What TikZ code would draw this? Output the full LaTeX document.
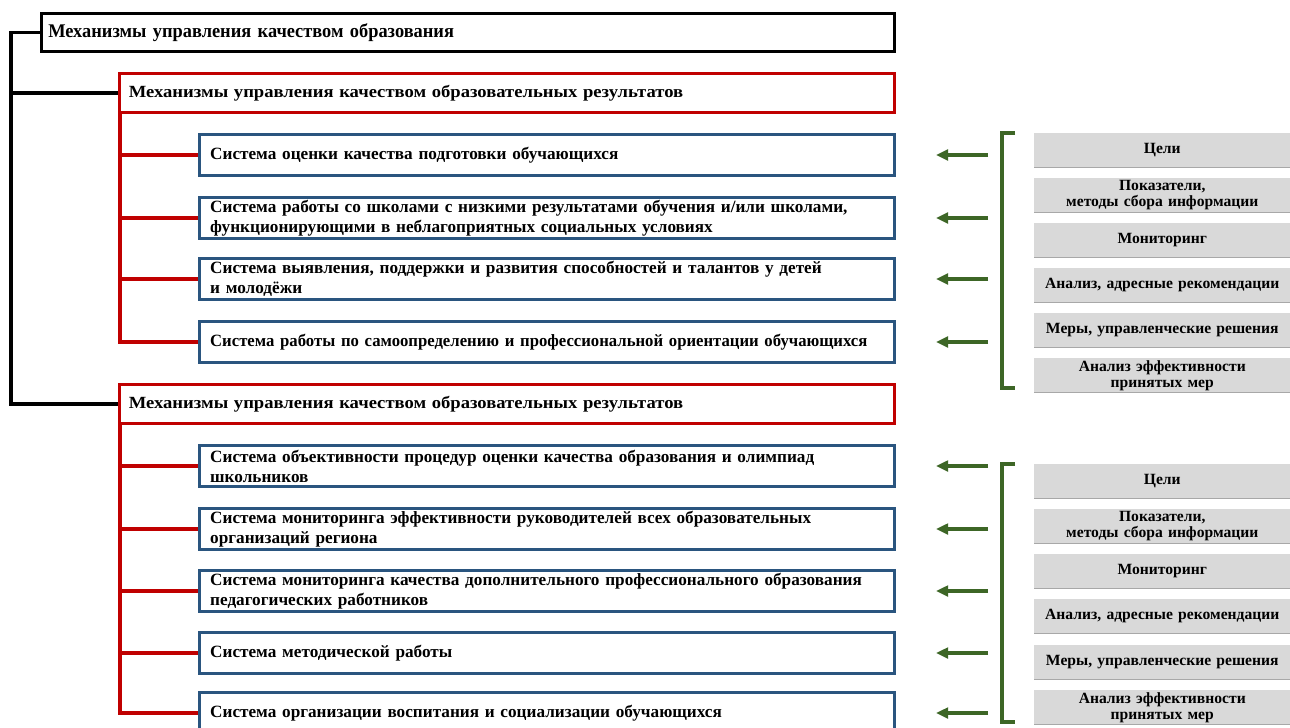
\documentclass[tikz,border=0pt]{standalone}
\usepackage{fontspec}
\setmainfont{Liberation Serif}
\newfontfamily\blackfont[FakeStretch=0.95]{Liberation Serif}
\newfontfamily\redfont[FakeStretch=1.09]{Liberation Serif}
\newfontfamily\narrowfont[FakeStretch=0.97]{Liberation Serif}
\usetikzlibrary{arrows.meta,calc}
\definecolor{cred}{HTML}{C00000}
\definecolor{cblue}{HTML}{2A557F}
\definecolor{cgreen}{HTML}{3D6626}
\definecolor{cgray}{HTML}{D9D9D9}
\definecolor{cgrayline}{HTML}{A8A8A8}
\begin{document}
\begin{tikzpicture}[x=0.75pt,y=-0.75pt,
  blackbox/.style={draw=black,line width=2.5pt,anchor=north west,minimum width=853*0.75pt,minimum height=38*0.75pt,inner xsep=5pt,text width=853*0.75pt-10pt,align=left,font=\blackfont\bfseries\fontsize{14.5}{16}\selectfont},
  redbox/.style={draw=cred,line width=2.3pt,anchor=north west,minimum width=775*0.75pt,minimum height=39*0.75pt,inner xsep=7pt,text width=775*0.75pt-14pt,align=left,font=\redfont\bfseries\fontsize{12.8}{14}\selectfont},
  bluebox/.style={draw=cblue,line width=2.3pt,anchor=north west,minimum width=695*0.75pt,minimum height=41*0.75pt,inner xsep=8pt,inner ysep=1pt,text width=695*0.75pt-16pt,align=left,font=\bfseries\fontsize{12.9}{15}\selectfont},
  narrowtext/.style={font=\narrowfont\bfseries\fontsize{12.9}{15}\selectfont},
  graybox/.style={fill=cgray,anchor=north west,minimum width=256*0.75pt,minimum height=34*0.75pt,inner sep=0pt,text width=256*0.75pt,align=center,font=\bfseries\fontsize{11.7}{12}\selectfont},
  blackline/.style={draw=black,line width=2.5pt},
  redline/.style={draw=cred,line width=2.6pt},
  garrow/.style={draw=cgreen,line width=2.5pt,-{Triangle[length=9pt,width=8pt]}},
  gbracket/.style={draw=cgreen,line width=2.5pt},
  shade/.style={draw=cgrayline,line width=1pt}
]
\clip (0,0) rectangle (1290,728);
\useasboundingbox (0,0) rectangle (1290,728);
\fill[white] (0,0) rectangle (1290,728);

% main boxes
\node[blackbox] (top) at (40,12) {Механизмы управления качеством образования};
\node[redbox] (r1) at (118,72) {Механизмы управления качеством образовательных результатов};
\node[redbox] (r2) at (118,383) {Механизмы управления качеством образовательных результатов};

\node[bluebox] (b1) at (198,133) {Система оценки качества подготовки обучающихся};
\node[bluebox] (b2) at (198,196) {Система работы со школами с низкими результатами обучения и/или школами,\\функционирующими в неблагоприятных социальных условиях};
\node[bluebox] (b3) at (198,257) {Система выявления, поддержки и развития способностей и талантов у детей\\и молодёжи};
\node[bluebox,narrowtext] (b4) at (198,320) {Система работы по самоопределению и профессиональной ориентации обучающихся};

\node[bluebox] (b5) at (198,444) {Система объективности процедур оценки качества образования и олимпиад\\школьников};
\node[bluebox] (b6) at (198,507) {Система мониторинга эффективности руководителей всех образовательных\\организаций региона};
\node[bluebox] (b7) at (198,569) {Система мониторинга качества дополнительного профессионального образования\\педагогических работников};
\node[bluebox] (b8) at (198,631) {Система методической работы};
\node[bluebox] (b9) at (198,691) {Система организации воспитания и социализации обучающихся};

% black trunk
\path (top.west) ++(-29,0) coordinate (tk);
\draw[blackline] (top.west) -- (tk) |- (r2.west);
\draw[blackline] (tk |- r1.west) -- (r1.west);

% red branches
\coordinate (ra) at ($(r1.south west)+(2,0)$);
\draw[redline] (ra) |- (b4.west);
\foreach \b in {b1,b2,b3} \draw[redline] (ra |- \b.west) -- (\b.west);
\coordinate (rb) at ($(r2.south west)+(2,0)$);
\draw[redline] (rb) |- (b9.west);
\foreach \b in {b5,b6,b7,b8} \draw[redline] (rb |- \b.west) -- (\b.west);

% green arrows
\foreach \b in {b1,b2,b3,b4,b5,b6,b7,b8,b9}
  \draw[garrow] ($(\b.east)+(92,0)$) -- ($(\b.east)+(40,0)$);

% brackets
\coordinate (k1a) at (1015,133);
\coordinate (k1b) at (1015,388);
\draw[gbracket] (k1a) -- ++(-13,0) |- (k1b);
\coordinate (k2a) at (1015,464);
\coordinate (k2b) at (1015,722);
\draw[gbracket] (k2a) -- ++(-13,0) |- (k2b);

% gray boxes, group 1
\node[graybox] (g1) at (1034,133) {Цели};
\node[graybox] (g2) at (1034,178) {Показатели,\\методы сбора информации};
\node[graybox] (g3) at (1034,223) {Мониторинг};
\node[graybox] (g4) at (1034,268) {Анализ, адресные рекомендации};
\node[graybox] (g5) at (1034,313) {Меры, управленческие решения};
\node[graybox] (g6) at (1034,358) {Анализ эффективности\\принятых мер};
% gray boxes, group 2
\node[graybox] (h1) at (1034,464) {Цели};
\node[graybox] (h2) at (1034,509) {Показатели,\\методы сбора информации};
\node[graybox] (h3) at (1034,554) {Мониторинг};
\node[graybox] (h4) at (1034,599) {Анализ, адресные рекомендации};
\node[graybox] (h5) at (1034,645) {Меры, управленческие решения};
\node[graybox] (h6) at (1034,690) {Анализ эффективности\\принятых мер};
\foreach \g in {g1,g2,g3,g4,g5,g6,h1,h2,h3,h4,h5,h6}
  \draw[shade] (\g.south west) -- (\g.south east);
\end{tikzpicture}
\end{document}
